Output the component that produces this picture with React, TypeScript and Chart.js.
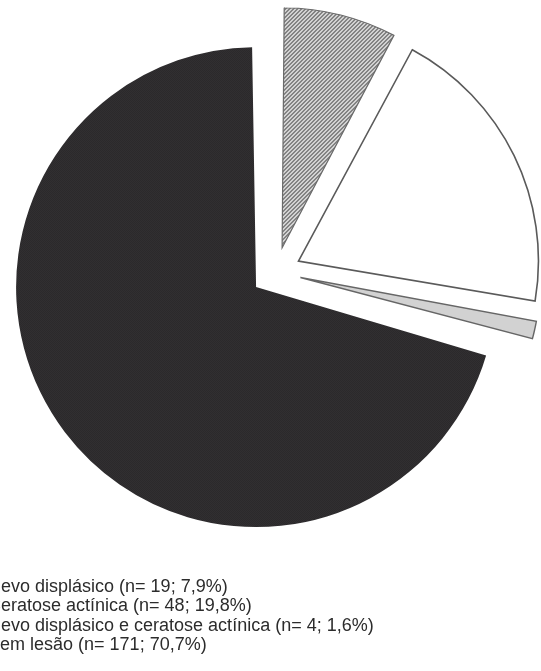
import React, { useEffect, useRef } from "react";
import { Chart, registerables } from "chart.js";

Chart.register(...registerables);

const categories = [
  "Nevo displásico",
  "Ceratose actínica",
  "Nevo displásico e ceratose actínica",
  "Sem lesão",
];
const counts = [19, 48, 4, 171];
const percentLabels = ["7,9%", "19,8%", "1,6%", "70,7%"];

function makeTile(size: number, draw: (c: CanvasRenderingContext2D) => void) {
  const cv = document.createElement("canvas");
  cv.width = size;
  cv.height = size;
  const c = cv.getContext("2d")!;
  draw(c);
  return cv;
}

function hatchPattern(ctx: CanvasRenderingContext2D) {
  const tile = makeTile(4, (c) => {
    c.fillStyle = "#e0e0e0";
    c.fillRect(0, 0, 4, 4);
    c.fillStyle = "#767676";
    for (let i = 0; i < 4; i++) {
      c.fillRect(i, 3 - i, 1, 1);
      c.fillRect(i, (4 - i) % 4, 1, 1);
    }
  });
  return ctx.createPattern(tile, "repeat")!;
}

function dotPattern(ctx: CanvasRenderingContext2D) {
  const tile = makeTile(2, (c) => {
    c.fillStyle = "#ececec";
    c.fillRect(0, 0, 2, 2);
    c.fillStyle = "#b8b8b8";
    c.fillRect(0, 0, 1, 1);
    c.fillRect(1, 1, 1, 1);
  });
  return ctx.createPattern(tile, "repeat")!;
}

function darkPattern(ctx: CanvasRenderingContext2D) {
  const tile = makeTile(2, (c) => {
    c.fillStyle = "#2a282a";
    c.fillRect(0, 0, 2, 2);
    c.fillStyle = "#333133";
    c.fillRect(0, 0, 1, 1);
    c.fillRect(1, 1, 1, 1);
  });
  return ctx.createPattern(tile, "repeat")!;
}

const OFFSET = 100; // Chart.js translates by offset / 4

const radiusFix = {
  id: "radiusFix",
  afterDatasetUpdate(chart: any, args: any) {
    const meta = args.meta;
    meta.data.forEach((arc: any) => {
      const fix = 1 - Math.sin(Math.min(Math.PI, arc.circumference || 0));
      arc.outerRadius = arc.outerRadius - (OFFSET / 4) * fix;
    });
  },
};

export default function App() {
  const ref = useRef<HTMLCanvasElement | null>(null);

  useEffect(() => {
    const canvas = ref.current!;
    const ctx = canvas.getContext("2d")!;
    const chart = new Chart(canvas, {
      type: "pie",
      data: {
        labels: categories,
        datasets: [
          {
            data: counts,
            backgroundColor: [
              hatchPattern(ctx),
              "#ffffff",
              dotPattern(ctx),
              darkPattern(ctx),
            ],
            borderColor: ["#6a6a6a", "#5a5a5a", "#666666", "#2a282a"],
            borderWidth: [1.2, 1.6, 1.4, 0],
            borderJoinStyle: "miter",
            offset: OFFSET,
          } as any,
        ],
      },
      options: {
        responsive: false,
        animation: false,
        devicePixelRatio: 1,
        radius: 240,
        layout: { padding: { left: 11, right: 0, top: 0, bottom: 127 } },
        plugins: {
          legend: { display: false },
          tooltip: { enabled: false },
        },
      } as any,
      plugins: [radiusFix],
    });
    return () => chart.destroy();
  }, []);

  return (
    <div
      style={{
        position: "absolute",
        left: 0,
        top: 0,
        width: 541,
        height: 671,
        overflow: "hidden",
        background: "#fff",
      }}
    >
      <canvas ref={ref} width={541} height={671} style={{ display: "block" }} />
      <div
        style={{
          position: "absolute",
          left: -12,
          top: 577,
          fontFamily: "'Liberation Sans', Arial, sans-serif",
          fontSize: 18,
          lineHeight: "19.3px",
          color: "#2c2c2c",
          whiteSpace: "nowrap",
        }}
      >
        {categories.map((c, i) => (
          <div key={c}>
            {c} (n= {counts[i]}; {percentLabels[i]})
          </div>
        ))}
      </div>
    </div>
  );
}
